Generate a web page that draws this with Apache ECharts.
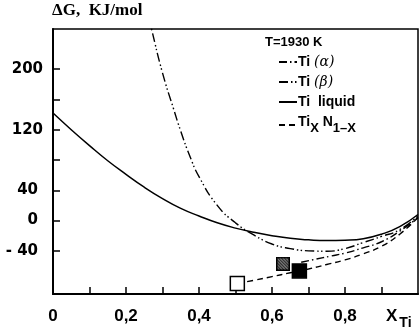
<!DOCTYPE html>
<html>
<head>
<meta charset="utf-8">
<script src="https://cdn.jsdelivr.net/npm/echarts@6/dist/echarts.min.js"></script>
<style>
  html, body { margin: 0; padding: 0; background: #fff; }
  #chart { width: 420px; height: 331px; }
</style>
</head>
<body>
<div id="chart"></div>
<script>
// ΔG (KJ/mol) vs X_Ti, T = 1930 K
const liquidX = [0, 0.05, 0.1, 0.15, 0.2, 0.25, 0.3, 0.35, 0.4, 0.45, 0.5, 0.55, 0.6, 0.65, 0.7, 0.75, 0.8, 0.85, 0.9, 0.95, 1.0]
const liquidG = [142, 120, 99, 79, 61, 44, 29, 16, 6, -3, -10, -15.5, -20, -23.5, -25.5, -26.5, -26, -24, -18, -8, 8]

const betaX = [0.26, 0.27, 0.3, 0.33, 0.35, 0.375, 0.4, 0.45, 0.5, 0.55, 0.6, 0.65, 0.7, 0.75, 0.8, 0.85, 0.9, 0.95, 1.0]
const betaG = [274, 253, 195, 148, 118, 85, 58, 20, -3, -19, -31, -37, -40, -40.5, -37, -29, -21, -12, 6]

const alphaX = [0.68, 0.72, 0.76, 0.8, 0.85, 0.9, 0.95, 1.0]
const alphaG = [-55, -51, -47, -43, -36, -28, -14, 4]

const nitrideX = [0.505, 0.55, 0.6, 0.65, 0.7, 0.75, 0.8, 0.85, 0.9, 0.95, 1.0]
const nitrideG = [-83, -79, -74, -69, -64, -58, -52, -44, -34, -18, 4]

// measured points (open, hatched, filled squares)
const pointX = [0.505, 0.63, 0.675]
const pointG = [-83, -57, -66.5]

const xLabels = [0, 0.2, 0.4, 0.6, 0.8]
const xTicks = [0.1, 0.2, 0.3, 0.4, 0.5, 0.6, 0.7, 0.8, 0.9]
const yLabels = [200, 120, 40, 0, -40]
const yTicks = [200, 160, 120, 80, 40, 0, -40]

const zip = (xs, ys) => xs.map((x, i) => [x, ys[i]])

// 斜线方块 (画成图片当作 symbol)
function hatchedSquare(size) {
  const c = document.createElement('canvas')
  c.width = size
  c.height = size
  const g = c.getContext('2d')
  g.fillStyle = '#fff'
  g.fillRect(0, 0, size, size)
  g.strokeStyle = '#222'
  g.lineWidth = 1.6
  g.beginPath()
  for (let k = -size; k < size * 2; k += 3) {
    g.moveTo(k, 0)
    g.lineTo(k + size, size)
  }
  g.stroke()
  g.strokeStyle = '#000'
  g.lineWidth = 1.5
  g.strokeRect(0.75, 0.75, size - 1.5, size - 1.5)
  return 'image://' + c.toDataURL()
}

const markerSymbol = ['rect', hatchedSquare(14), 'rect']
const markerFill = ['#fff', '#fff', '#000']

const sans = 'Liberation Sans'
const sub = { fontSize: 13, fontWeight: 'bold', fontFamily: sans, padding: [7, 0, 0, 0], verticalAlign: 'top' }
const main = { fontSize: 14, fontWeight: 'bold', fontFamily: sans, verticalAlign: 'top' }

const chart = echarts.init(document.getElementById('chart'), null, { renderer: 'canvas' })

const lineBase = {
  type: 'line',
  smooth: true,
  symbol: 'none',
  showSymbol: false,
  silent: true,
  itemStyle: { color: '#000', opacity: 0 },
  z: 2
}

chart.setOption({
  animation: false,
  backgroundColor: '#fff',
  title: [
    {
      text: 'ΔG,  KJ/mol',
      left: 52,
      top: 2,
      padding: 0,
      textStyle: { fontFamily: 'Liberation Serif', fontWeight: 'bold', fontSize: 17, color: '#000' }
    },
    {
      text: 'T=1930 K',
      left: 265,
      top: 36,
      padding: 0,
      textStyle: { fontFamily: sans, fontWeight: 'bold', fontSize: 13, color: '#000' }
    },
    {
      text: '{x|X}{s|Ti}',
      left: 386,
      top: 308,
      padding: 0,
      textStyle: {
        rich: {
          x: { fontSize: 17, fontWeight: 'bold', fontFamily: sans, color: '#000', verticalAlign: 'top' },
          s: { fontSize: 14, fontWeight: 'bold', fontFamily: sans, color: '#000', verticalAlign: 'top', padding: [8, 0, 0, 2] }
        }
      }
    }
  ],
  legend: {
    orient: 'vertical',
    left: 278,
    top: 55,
    padding: 0,
    itemWidth: 18,
    itemHeight: 14,
    itemGap: 6,
    selectedMode: false,
    itemStyle: { opacity: 0 },
    data: ['Ti (α)', 'Ti (β)', 'Ti liquid', 'TiN'],
    formatter: (name) => {
      if (name === 'Ti (α)') return '{m|Ti }{i|(α)}'
      if (name === 'Ti (β)') return '{m|Ti }{i|(β)}'
      if (name === 'Ti liquid') return '{m|Ti  liquid}'
      return '{m|Ti}{s|X}{m| N}{s|1–X}'
    },
    textStyle: {
      color: '#000',
      padding: [0, 0, 0, -4],
      rich: {
        m: main,
        i: { fontSize: 14, fontFamily: 'DejaVu Serif', fontStyle: 'italic', verticalAlign: 'top' },
        s: sub
      }
    }
  },
  grid: {
    show: true,
    left: 53,
    right: 2,
    top: 29,
    bottom: 37,
    borderColor: '#000',
    borderWidth: 1.5
  },
  xAxis: {
    type: 'value',
    min: 0,
    max: 1,
    splitLine: { show: false },
    axisLine: { onZero: false, lineStyle: { color: '#000', width: 2 } },
    axisTick: { inside: true, length: 7, customValues: xTicks, lineStyle: { color: '#000', width: 1.5 } },
    axisLabel: {
      customValues: xLabels,
      margin: 14,
      color: '#000',
      fontFamily: sans,
      fontWeight: 'bold',
      fontSize: 17,
      formatter: (v) => String(v).replace('.', ',')
    }
  },
  yAxis: {
    type: 'value',
    min: -97,
    max: 253,
    splitLine: { show: false },
    axisLine: { lineStyle: { color: '#000', width: 2 } },
    axisTick: { inside: true, length: 7, customValues: yTicks, lineStyle: { color: '#000', width: 1.5 } },
    axisLabel: {
      customValues: yLabels,
      margin: 10,
      color: '#000',
      formatter: (v) => {
        // 下面几个刻度标签在原图里靠左一些
        const txt = v < 0 ? '- ' + Math.abs(v) : String(v)
        return v > 100 ? '{a|' + txt + '}' : '{b|' + txt + '}'
      },
      rich: {
        a: { fontFamily: 'DejaVu Sans', fontWeight: 'bold', fontSize: 15, color: '#000' },
        b: { fontFamily: 'DejaVu Sans', fontWeight: 'bold', fontSize: 15, color: '#000', padding: [0, 5, 0, 0] }
      }
    }
  },
  series: [
    {
      ...lineBase,
      name: 'Ti (α)',
      data: zip(alphaX, alphaG),
      lineStyle: { color: '#000', width: 1.4, type: [8, 3, 1.5, 3] }
    },
    {
      ...lineBase,
      name: 'Ti (β)',
      data: zip(betaX, betaG),
      lineStyle: { color: '#000', width: 1.4, type: [9, 3, 1.5, 2.5, 1.5, 3] }
    },
    {
      ...lineBase,
      name: 'Ti liquid',
      data: zip(liquidX, liquidG),
      lineStyle: { color: '#000', width: 1.5, type: 'solid' }
    },
    {
      ...lineBase,
      name: 'TiN',
      data: zip(nitrideX, nitrideG),
      lineStyle: { color: '#000', width: 1.4, type: [6, 4] }
    },
    {
      type: 'scatter',
      name: 'points',
      symbolSize: 14,
      silent: true,
      z: 5,
      data: zip(pointX, pointG).map((p, i) => ({
        value: p,
        symbol: markerSymbol[i],
        itemStyle: { color: markerFill[i], borderColor: '#000', borderWidth: i === 1 ? 0 : 1.5, opacity: 1 }
      }))
    }
  ]
})
</script>
</body>
</html>
